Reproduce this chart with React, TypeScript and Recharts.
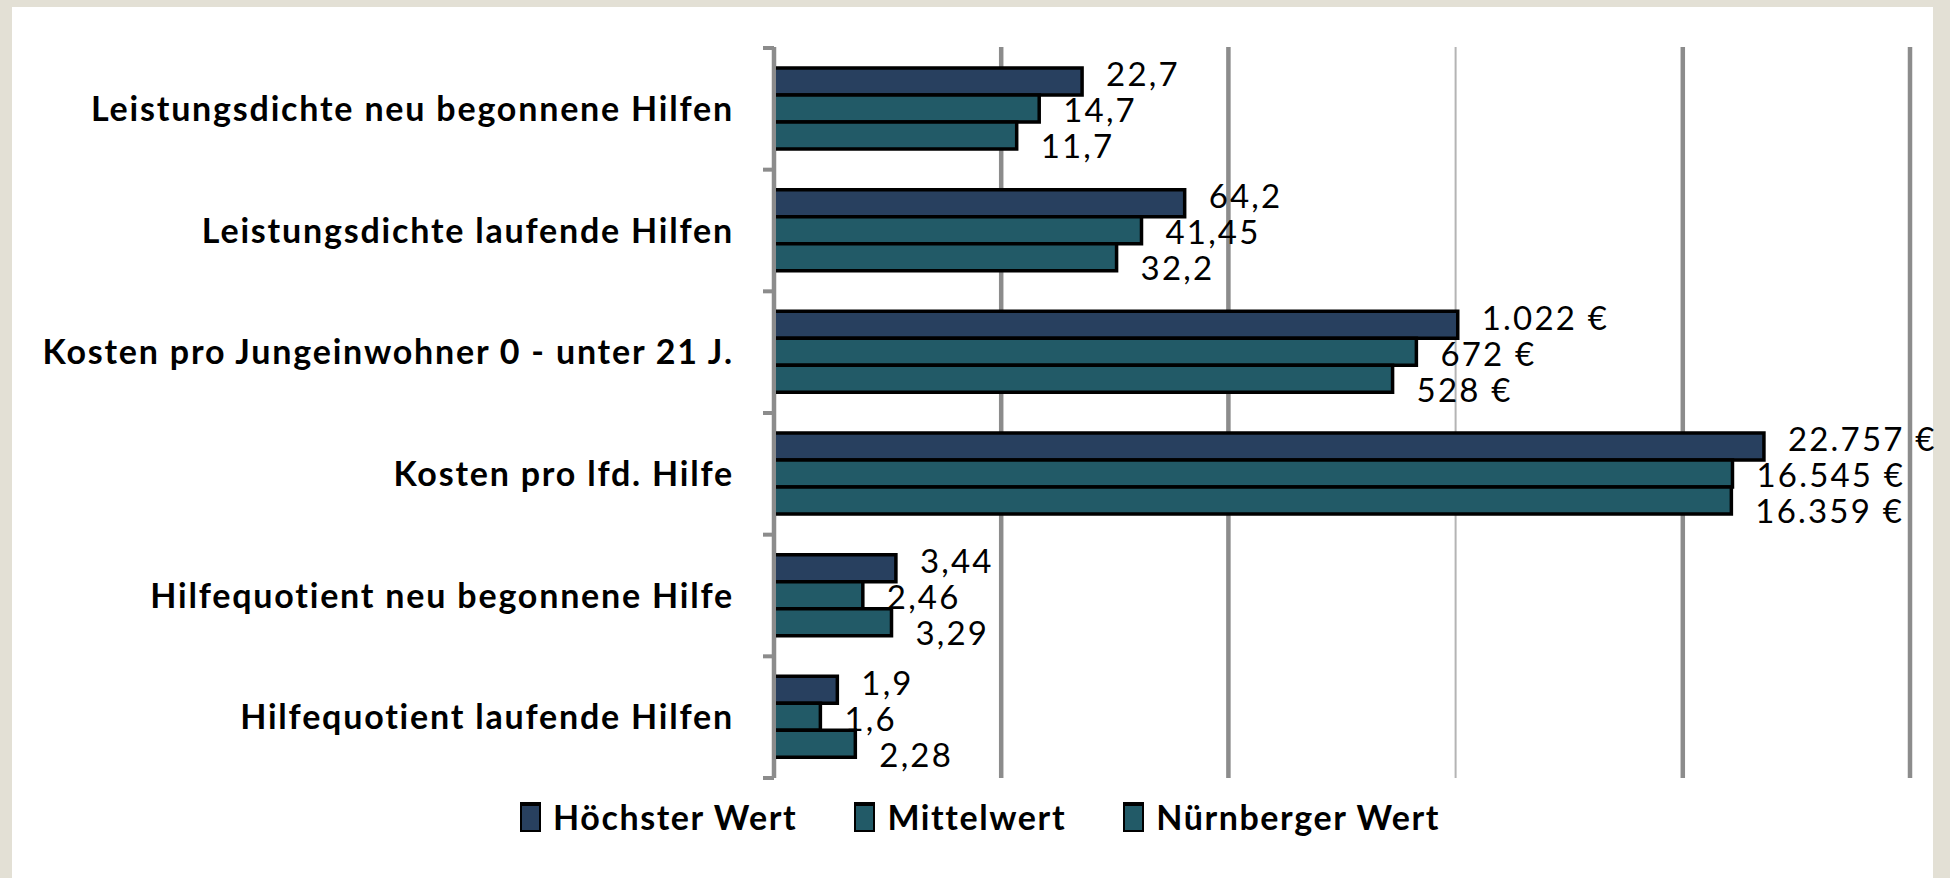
import React from "react";
import { BarChart, Bar, XAxis, YAxis, CartesianGrid, LabelList } from "recharts";

const categories = [
  "Leistungsdichte neu begonnene Hilfen",
  "Leistungsdichte laufende Hilfen",
  "Kosten pro Jungeinwohner 0 - unter 21 J.",
  "Kosten pro lfd. Hilfe",
  "Hilfequotient neu begonnene Hilfe",
  "Hilfequotient laufende Hilfen",
];
const isEuro = [false, false, true, true, false, false];

const hoechsterWert = [22.7, 64.2, 1022, 22757, 3.44, 1.9];
const mittelwert = [14.7, 41.45, 672, 16545, 2.46, 1.6];
const nuernbergerWert = [11.7, 32.2, 528, 16359, 3.29, 2.28];

const seriesNames = ["Höchster Wert", "Mittelwert", "Nürnberger Wert"];
const seriesKeys = ["hoechst", "mittel", "nuernberg"];
const seriesColors = ["#28405f", "#225a67", "#225a67"];

const xTicks = [1, 10, 100, 1000, 10000, 100000];

const data = categories.map((name, i) => ({
  name,
  euro: isEuro[i],
  hoechst: hoechsterWert[i],
  mittel: mittelwert[i],
  nuernberg: nuernbergerWert[i],
}));

const W = 1950;
const H = 878;
const margin = { top: 48, right: 40, bottom: 100, left: 0 };
const yAxisWidth = 774;
const halfBand = (H - margin.top - margin.bottom) / categories.length / 2;
const FONT = "Lato, 'Open Sans', sans-serif";

const fmt = (v: number, euro: boolean) => {
  if (euro) {
    const s = Math.round(v).toString().replace(/\B(?=(\d{3})+(?!\d))/g, ".");
    return `${s} €`;
  }
  return String(v).replace(".", ",");
};

const CategoryTick = (props: any) => {
  const { x, y, payload, index } = props;
  const axisX = x + 40;
  return (
    <g>
      <text
        x={x}
        y={y}
        dy="0.36em"
        textAnchor="end"
        fontFamily={FONT}
        fontWeight={700}
        fontSize={34}
        letterSpacing={1.8}
        fill="#000"
      >
        {payload.value}
      </text>
      <line x1={axisX - 11} x2={axisX} y1={y - halfBand} y2={y - halfBand} stroke="#8c8c8c" strokeWidth={4} />
      {index === categories.length - 1 && (
        <line x1={axisX - 11} x2={axisX} y1={y + halfBand} y2={y + halfBand} stroke="#8c8c8c" strokeWidth={4} />
      )}
    </g>
  );
};

const labelDy = [-7, 2, 11];

const makeLabel = (s: number) => (props: any) => {
  const { x, y, width, height, index } = props;
  const v = data[index][seriesKeys[s] as "hoechst"];
  return (
    <text
      x={x + width + 24}
      y={y + height / 2 + labelDy[s]}
      dy="0.36em"
      fontFamily={FONT}
      fontSize={33}
      letterSpacing={2.2}
      fill="#000"
    >
      {fmt(v, data[index].euro)}
    </text>
  );
};

const gridLine = (props: any) => {
  const { x1, x2, y1, y2, index } = props;
  const thin = xTicks[index] === 1000;
  return (
    <line
      key={`g-${index}`}
      x1={x1}
      x2={x2}
      y1={y1 - 1}
      y2={y2}
      stroke={thin ? "#b4b4b4" : "#8c8c8c"}
      strokeWidth={thin ? 2 : 4.5}
    />
  );
};

export default function App() {
  return (
    <div style={{ position: "absolute", left: 0, top: 0, width: W, height: H, background: "#e3e0d5", overflow: "hidden" }}>
      <div style={{ position: "absolute", left: 12, top: 7, width: 1921, height: H - 7, background: "#fff" }} />
      <div style={{ position: "absolute", left: 0, top: 0 }}>
        <BarChart
          width={W}
          height={H}
          data={data}
          layout="vertical"
          margin={margin}
          barSize={27}
          barGap={0}
        >
          <CartesianGrid horizontal={false} vertical={gridLine} />
          <XAxis type="number" scale="log" domain={[1, 100000]} ticks={xTicks} hide allowDataOverflow />
          <YAxis
            type="category"
            dataKey="name"
            width={yAxisWidth}
            axisLine={{ stroke: "#8c8c8c", strokeWidth: 4 }}
            tickLine={false}
            tickSize={11}
            tickMargin={29}
            tick={<CategoryTick />}
            interval={0}
          />
          {seriesKeys.map((k, s) => (
            <Bar
              key={k}
              dataKey={k}
              name={seriesNames[s]}
              fill={seriesColors[s]}
              stroke="#000"
              strokeWidth={3.5}
              isAnimationActive={false}
            >
              <LabelList dataKey={k} content={makeLabel(s)} />
            </Bar>
          ))}
        </BarChart>
      </div>
      <div
        style={{
          position: "absolute",
          left: 0,
          top: 802,
          width: 1960,
          display: "flex",
          justifyContent: "center",
          gap: 57,
          fontFamily: FONT,
          fontWeight: 700,
          fontSize: 34,
          letterSpacing: 1.6,
          lineHeight: "30px",
        }}
      >
        {seriesNames.map((n, s) => (
          <div key={n} style={{ display: "flex", alignItems: "center" }}>
            <div
              style={{
                width: 17,
                height: 24,
                background: seriesColors[s],
                border: "2px solid #000",
                borderTopWidth: 4,
                marginRight: 12,
              }}
            />
            <span>{n}</span>
          </div>
        ))}
      </div>
    </div>
  );
}
